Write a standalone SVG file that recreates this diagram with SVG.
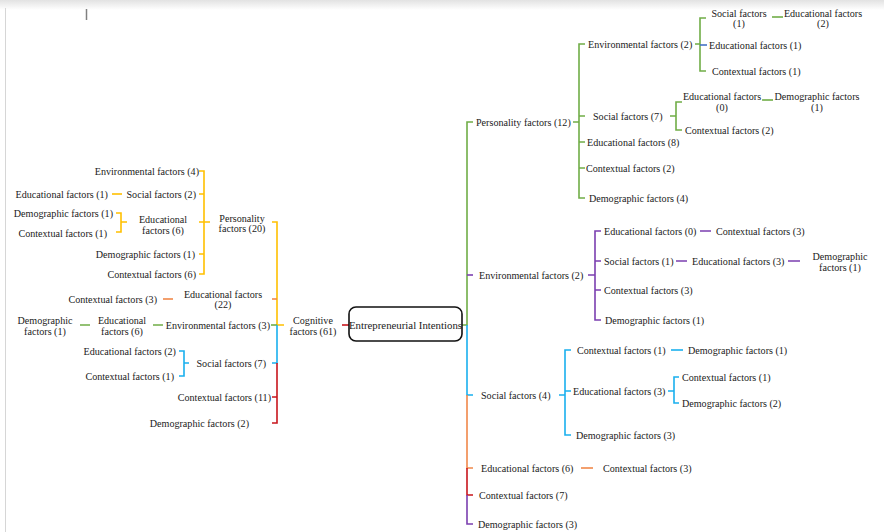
<svg xmlns="http://www.w3.org/2000/svg" width="884" height="532" viewBox="0 0 884 532">
<defs>
<linearGradient id="shade" x1="0" y1="0" x2="0" y2="1">
<stop offset="0" stop-color="#e2e2e2"/>
<stop offset="1" stop-color="#ffffff"/>
</linearGradient>
</defs>
<style>
text{font-family:"Liberation Serif",Tinos,"Times New Roman",Times,"DejaVu Serif",serif;font-size:10.1px;fill:#1a1a1a}
.e{text-anchor:end}
.m{text-anchor:middle}
.root{font-size:10.8px}
path{fill:none;stroke-width:1.6}
.y{stroke:#FFC000}.g{stroke:#70AD47}.b{stroke:#1AB0EE}.r{stroke:#C8161D}.o{stroke:#F0884A}.p{stroke:#7B3FB0}.n{stroke:#4472C4}
</style>
<rect x="0" y="0" width="884" height="532" fill="#ffffff"/>
<rect x="0" y="0" width="884" height="10" fill="url(#shade)"/>
<line x1="5.5" y1="8" x2="5.5" y2="532" stroke="#d6d6d6" stroke-width="1"/>
<line x1="86.5" y1="9" x2="86.5" y2="20" stroke="#808080" stroke-width="1.5"/>

<g id="connectors">
<path class="y" d="M199,171H204V274H199M199,194H204M199,222H210M199,254H204"/>
<path class="y" d="M112,194H122"/>
<path class="y" d="M116,213H121V232H116M121,222H127"/>
<path class="y" d="M272,222H277V325H284"/>
<path class="o" d="M272,299H277"/>
<path class="o" d="M163,299H173"/>
<path class="g" d="M271,325H277"/>
<path class="g" d="M80,325H90M153,325H163"/>
<path class="b" d="M277,325V363H272"/>
<path class="b" d="M179,351H184V376H179M184,363H189"/>
<path class="r" d="M277,363V423H272M272,397H277"/>
<path class="r" d="M342,325H349"/>

<path class="g" d="M462,325H467V122H473"/>
<path class="p" d="M467,275H473"/>
<path class="b" d="M467,325V395H473"/>
<path class="o" d="M467,395V468H473"/>
<path class="r" d="M467,468V495H473"/>
<path class="p" d="M467,495V524H473"/>
<path class="g" d="M573,122H579M585,44H579V198H585M579,116H585M579,142H585M579,168H585"/>
<path class="g" d="M695,44H700M706,18H700V71H706"/>
<path class="n" d="M700,45H707"/>
<path class="g" d="M772,17H783"/>
<path class="g" d="M670,116H676M682,102H676V130H682"/>
<path class="g" d="M762,100H773"/>
<path class="p" d="M588,275H595M601,231H595V320H601M595,261H601M595,290H601"/>
<path class="p" d="M700,231H711M676,261H687M788,261H800"/>
<path class="b" d="M559,395H565M571,350H565V435H571M565,391H571"/>
<path class="b" d="M671,350H683"/>
<path class="b" d="M668,391H674M679,377H674V403H679"/>
<path class="o" d="M581,468H593"/>
</g>

<g id="root">
<rect x="349" y="307" width="113" height="34" rx="7" fill="#ffffff" stroke="#111111" stroke-width="1.6"/>
<text class="m root" x="405.5" y="328.5">Entrepreneurial Intentions</text>
</g>
<g id="cognitive"><text class="m" x="313" y="323.5">Cognitive</text><text class="m" x="313" y="334.5">factors (61)</text></g>

<g id="l-personality"><text class="m" x="242" y="221.5">Personality</text><text class="m" x="242" y="232">factors (20)</text></g>
<g id="l-p-env"><text class="e" x="199" y="174.5">Environmental factors (4)</text></g>
<g id="l-p-soc-edu"><text class="e" x="108" y="197.5">Educational factors (1)</text></g>
<g id="l-p-soc"><text class="e" x="196" y="197.5">Social factors (2)</text></g>
<g id="l-p-edu-dem"><text class="e" x="113" y="216.5">Demographic factors (1)</text></g>
<g id="l-p-edu-con"><text class="e" x="107" y="236.5">Contextual factors (1)</text></g>
<g id="l-p-edu"><text class="m" x="163" y="222.5">Educational</text><text class="m" x="163" y="233.5">factors (6)</text></g>
<g id="l-p-dem"><text class="e" x="195" y="257.5">Demographic factors (1)</text></g>
<g id="l-p-con"><text class="e" x="196" y="277.5">Contextual factors (6)</text></g>
<g id="l-edu-con"><text class="e" x="157" y="302.5">Contextual factors (3)</text></g>
<g id="l-edu"><text class="m" x="223" y="297.5">Educational factors</text><text class="m" x="223" y="307.5">(22)</text></g>
<g id="l-env-edu-dem"><text class="m" x="45" y="323.5">Demographic</text><text class="m" x="45" y="334.5">factors (1)</text></g>
<g id="l-env-edu"><text class="m" x="122" y="323.5">Educational</text><text class="m" x="122" y="334.5">factors (6)</text></g>
<g id="l-env"><text class="e" x="270" y="328.5">Environmental factors (3)</text></g>
<g id="l-soc-edu"><text class="e" x="176" y="354.5">Educational factors (2)</text></g>
<g id="l-soc-con"><text class="e" x="174" y="379.5">Contextual factors (1)</text></g>
<g id="l-soc"><text class="e" x="266" y="366.5">Social factors (7)</text></g>
<g id="l-con"><text class="e" x="271" y="400.5">Contextual factors (11)</text></g>
<g id="l-dem"><text class="e" x="249" y="426.5">Demographic factors (2)</text></g>

<g id="r-personality"><text x="476" y="125.5">Personality factors (12)</text></g>
<g id="r-p-env"><text x="588" y="47.5">Environmental factors (2)</text></g>
<g id="r-p-env-soc"><text class="m" x="739" y="16.5">Social factors</text><text class="m" x="739" y="26.5">(1)</text></g>
<g id="r-p-env-soc-edu"><text class="m" x="823" y="16.5">Educational factors</text><text class="m" x="823" y="26.5">(2)</text></g>
<g id="r-p-env-edu"><text x="709" y="48.5">Educational factors (1)</text></g>
<g id="r-p-env-con"><text x="712" y="74.5">Contextual factors (1)</text></g>
<g id="r-p-soc"><text x="593" y="119.5">Social factors (7)</text></g>
<g id="r-p-soc-edu"><text class="m" x="722" y="99.5">Educational factors</text><text class="m" x="722" y="110.5">(0)</text></g>
<g id="r-p-soc-edu-dem"><text class="m" x="817" y="99.5">Demographic factors</text><text class="m" x="817" y="110.5">(1)</text></g>
<g id="r-p-soc-con"><text x="685" y="133.5">Contextual factors (2)</text></g>
<g id="r-p-edu"><text x="587" y="145.5">Educational factors (8)</text></g>
<g id="r-p-con"><text x="586" y="171.5">Contextual factors (2)</text></g>
<g id="r-p-dem"><text x="589" y="201.5">Demographic factors (4)</text></g>

<g id="r-env"><text x="479" y="278.5">Environmental factors (2)</text></g>
<g id="r-env-edu"><text x="604" y="234.5">Educational factors (0)</text></g>
<g id="r-env-edu-con"><text x="716" y="234.5">Contextual factors (3)</text></g>
<g id="r-env-soc"><text x="604" y="264.5">Social factors (1)</text></g>
<g id="r-env-soc-edu"><text x="692" y="264.5">Educational factors (3)</text></g>
<g id="r-env-soc-edu-dem"><text class="m" x="840" y="259.5">Demographic</text><text class="m" x="840" y="270.5">factors (1)</text></g>
<g id="r-env-con"><text x="604" y="293.5">Contextual factors (3)</text></g>
<g id="r-env-dem"><text x="605" y="323.5">Demographic factors (1)</text></g>

<g id="r-soc"><text x="481" y="398.5">Social factors (4)</text></g>
<g id="r-soc-con"><text x="577" y="353.5">Contextual factors (1)</text></g>
<g id="r-soc-con-dem"><text x="688" y="353.5">Demographic factors (1)</text></g>
<g id="r-soc-edu"><text x="573" y="394.5">Educational factors (3)</text></g>
<g id="r-soc-edu-con"><text x="682" y="380.5">Contextual factors (1)</text></g>
<g id="r-soc-edu-dem"><text x="682" y="406.5">Demographic factors (2)</text></g>
<g id="r-soc-dem"><text x="576" y="438.5">Demographic factors (3)</text></g>

<g id="r-edu"><text x="481" y="471.5">Educational factors (6)</text></g>
<g id="r-edu-con"><text x="603" y="471.5">Contextual factors (3)</text></g>
<g id="r-con"><text x="479" y="498.5">Contextual factors (7)</text></g>
<g id="r-dem"><text x="478" y="527.5">Demographic factors (3)</text></g>
</svg>
